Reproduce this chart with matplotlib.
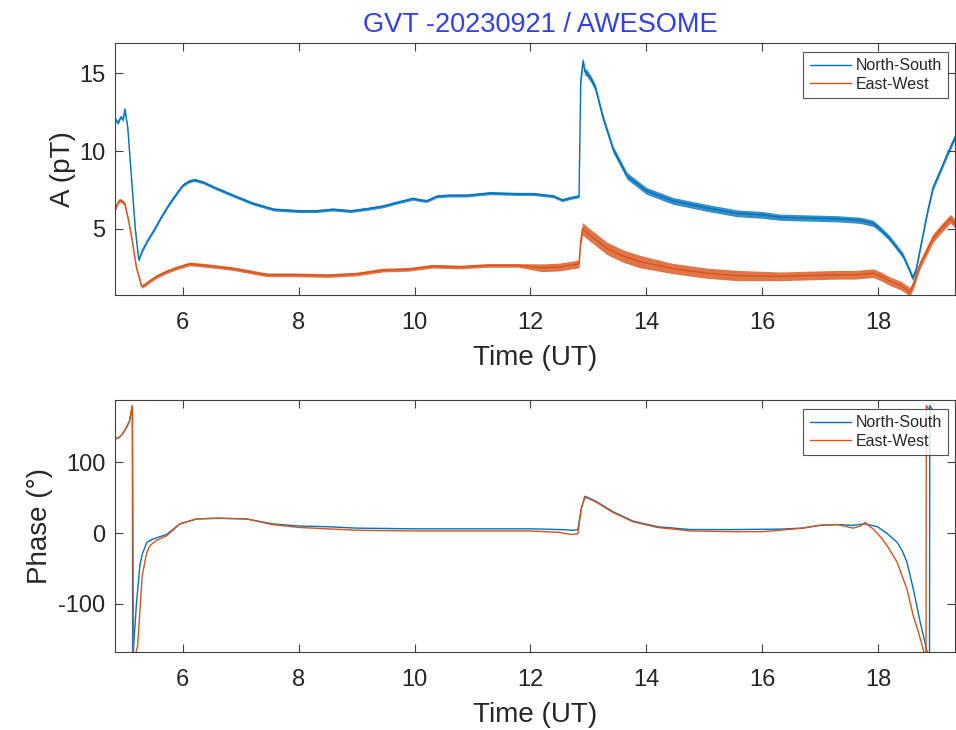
import matplotlib
matplotlib.use("Agg")
import matplotlib.pyplot as plt
import numpy as np

plt.rcParams['font.family'] = ['Liberation Sans', 'DejaVu Sans']
plt.rcParams['axes.unicode_minus'] = False

title = "GVT -20230921 / AWESOME"
series_names = ["North-South", "East-West"]
xticks = [6, 8, 10, 12, 14, 16, 18]
amp_yticks = [5, 10, 15]
phase_yticks = [-100, 0, 100]

# ---- Amplitude, North-South (pT) ----
ns_amp_t = [4.83, 4.88, 4.93, 4.97, 5.00, 5.05, 5.12, 5.18, 5.24, 5.30, 5.40, 5.50, 5.62, 5.75,
            5.90, 6.00, 6.10, 6.20, 6.35, 6.55, 6.87, 7.20, 7.57, 8.00, 8.30, 8.59, 8.90, 9.20,
            9.45, 9.70, 9.87, 9.97, 10.10, 10.21, 10.39, 10.60, 10.90, 11.30, 11.77, 12.05, 12.40,
            12.55, 12.70, 12.84, 12.87, 12.91, 12.94, 12.98, 13.05, 13.12, 13.25, 13.43, 13.67,
            14.00, 14.46, 15.05, 15.57, 16.00, 16.31, 16.80, 17.30, 17.70, 17.92, 18.05, 18.20,
            18.43, 18.55, 18.60, 18.66, 18.72, 18.85, 18.95, 19.10, 19.19, 19.33]
ns_amp = [12.1, 11.8, 12.2, 12.0, 12.7, 11.5, 8.0, 5.0, 3.0, 3.6, 4.3, 4.9, 5.7, 6.5,
          7.3, 7.8, 8.05, 8.15, 8.0, 7.65, 7.15, 6.65, 6.25, 6.15, 6.15, 6.25, 6.15, 6.3,
          6.45, 6.7, 6.85, 6.95, 6.85, 6.8, 7.1, 7.15, 7.15, 7.3, 7.25, 7.25, 7.1,
          6.85, 7.0, 7.1, 14.5, 15.8, 15.1, 15.0, 14.6, 14.1, 12.2, 10.1, 8.4,
          7.45, 6.8, 6.35, 6.0, 5.9, 5.75, 5.7, 5.65, 5.55, 5.35, 4.95, 4.4,
          3.3, 2.3, 1.85, 2.4, 3.55, 6.0, 7.65, 8.95, 9.75, 10.9]
# noise band half-width (pT) by time segment: (segment end time, half-width)
ns_amp_noise = [(12.85, 0.1), (16.0, 0.22), (18.0, 0.2), (20.0, 0.18)]

# ---- Amplitude, East-West (pT) ----
ew_amp_t = [4.83, 4.87, 4.91, 4.96, 5.00, 5.06, 5.12, 5.20, 5.29, 5.36, 5.43, 5.55, 5.72, 5.90,
            6.12, 6.40, 6.86, 7.45, 7.90, 8.50, 9.00, 9.45, 9.90, 10.30, 10.80, 11.25, 11.80,
            12.20, 12.50, 12.84, 12.87, 12.90, 13.03, 13.15, 13.32, 13.60, 13.89, 14.46, 15.05,
            15.57, 16.31, 16.80, 17.30, 17.60, 17.92, 18.05, 18.20, 18.40, 18.55, 18.62, 18.72,
            18.85, 18.95, 19.10, 19.25, 19.33]
ew_amp = [6.2, 6.6, 6.85, 6.75, 6.6, 5.6, 4.4, 2.5, 1.3, 1.45, 1.65, 1.95, 2.25, 2.5,
          2.75, 2.65, 2.45, 2.05, 2.05, 2.0, 2.1, 2.35, 2.4, 2.6, 2.55, 2.65, 2.65,
          2.5, 2.55, 2.75, 4.3, 5.0, 4.6, 4.25, 3.75, 3.25, 2.9, 2.45, 2.15,
          2.0, 1.95, 2.0, 2.05, 2.05, 2.15, 1.95, 1.65, 1.35, 0.95, 1.5, 2.65,
          3.65, 4.4, 5.05, 5.65, 5.35]
ew_amp_noise = [(11.9, 0.12), (12.85, 0.25), (14.0, 0.4), (16.0, 0.33), (20.0, 0.28)]

# ---- Phase, North-South (deg) ----
ns_ph_t = [4.83, 4.90, 4.96, 5.02, 5.08, 5.13, 5.135, 5.20, 5.26, 5.30, 5.38, 5.50, 5.72, 5.95,
           6.24, 6.60, 7.10, 7.55, 8.00, 8.50, 9.00, 10.00, 11.00, 12.00, 12.50, 12.75, 12.82,
           12.88, 12.94, 13.00, 13.15, 13.43, 13.77, 14.19, 14.76, 15.50, 16.31, 16.70, 17.00,
           17.30, 17.57, 17.78, 17.99, 18.15, 18.33, 18.42, 18.50, 18.61, 18.73, 18.85, 18.89,
           18.895, 18.93]
ns_ph = [133, 135, 140, 148, 158, 180, -180, -100, -45, -30, -13, -8, -2, 13,
         20, 21, 20, 13, 10, 9, 7, 6, 6, 6, 5, 4, 5,
         35, 52, 50, 44, 30, 17, 9, 5, 5, 5.6, 7, 11,
         12, 11, 13, 9, 0, -13, -25, -41, -79, -126, -168, -180,
         180, 176]

# ---- Phase, East-West (deg) ----
ew_ph_t = [4.83, 4.90, 4.96, 5.02, 5.08, 5.13, 5.15, 5.22, 5.30, 5.38, 5.43, 5.55, 5.72, 5.95,
           6.24, 6.60, 7.10, 7.55, 8.00, 8.50, 9.00, 10.00, 11.00, 12.00, 12.50, 12.70, 12.82,
           12.88, 12.94, 13.00, 13.15, 13.43, 13.77, 14.19, 14.76, 15.50, 16.00, 16.31, 16.70,
           17.00, 17.30, 17.57, 17.70, 17.78, 17.85, 17.92, 18.05, 18.16, 18.33, 18.50, 18.61,
           18.70, 18.78, 18.83, 18.835, 18.87]
ew_ph = [133, 135, 140, 148, 158, 180, -180, -160, -60, -27, -18, -10, -4, 13,
         20, 21, 20, 12, 8, 6, 4, 3, 3, 3, 1, -2, -1,
         35, 50, 49, 43, 29, 16, 8, 3, 2, 2, 4, 7,
         11, 12, 7, 10, 15, 10, 5.6, -6, -18, -41, -79, -117,
         -140, -164, -180, 180, 176]

c_ns = '#0072BD'
c_ew = '#D95319'
title_color = '#2f3ff0'
axis_color = '#404040'
text_color = '#262626'


def band_for(times, segments):
    out = []
    for tt in times:
        for end, hw in segments:
            if tt <= end:
                out.append(hw)
                break
    return np.asarray(out)


fig = plt.figure(figsize=(9.56, 7.30), dpi=100)
ax1 = fig.add_axes([115 / 956, 1 - 295 / 730, 840 / 956, 252 / 730])
ax2 = fig.add_axes([115 / 956, 1 - 652 / 730, 840 / 956, 252 / 730])

# amplitude panel
for t, v, seg, c, lab in [(ns_amp_t, ns_amp, ns_amp_noise, c_ns, series_names[0]),
                          (ew_amp_t, ew_amp, ew_amp_noise, c_ew, series_names[1])]:
    t = np.asarray(t); v = np.asarray(v); n = band_for(t, seg)
    ax1.fill_between(t, v - n, v + n, color=c, alpha=0.8, lw=0)
    ax1.plot(t, v, color=c, lw=1.0, label=lab)

# phase panel
ax2.plot(ns_ph_t, ns_ph, color=c_ns, lw=1.0, label=series_names[0])
ax2.plot(ew_ph_t, ew_ph, color=c_ew, lw=1.0, label=series_names[1])

ax1.set_xlim(4.83, 19.33)
ax1.set_ylim(0.75, 16.95)
ax2.set_xlim(4.83, 19.33)
ax2.set_ylim(-168, 188)

ax1.set_yticks(amp_yticks)
ax2.set_yticks(phase_yticks)
for ax in (ax1, ax2):
    ax.set_xticks(xticks)
    ax.tick_params(direction='in', length=6, width=0.8, top=True, right=True,
                   labelsize=17, colors=axis_color, labelcolor=text_color)
    ax.tick_params(axis='x', pad=12)
    ax.tick_params(axis='y', pad=7)
    for s in ax.spines.values():
        s.set_color(axis_color)
        s.set_linewidth(0.8)
    ax.set_xlabel("Time (UT)", fontsize=20, color=text_color, labelpad=8)
    leg = ax.legend(loc='upper right', fontsize=11.5, frameon=True, fancybox=False,
                    edgecolor=text_color, handlelength=2.6, handletextpad=0.25,
                    borderpad=0.4, labelspacing=0.2, borderaxespad=0,
                    bbox_to_anchor=(1 - 7 / 840, 1 - 9 / 252))
    leg.get_frame().set_linewidth(0.8)
    for txt in leg.get_texts():
        txt.set_color(text_color)

ax1.set_ylabel("A (pT)", fontsize=20, color=text_color, labelpad=2)
ax2.set_ylabel("Phase (°)", fontsize=20, color=text_color, labelpad=4)
ax1.set_title(title, fontsize=19.5, color=title_color, pad=8, x=0.506)

fig.savefig("out.png", dpi=100)
